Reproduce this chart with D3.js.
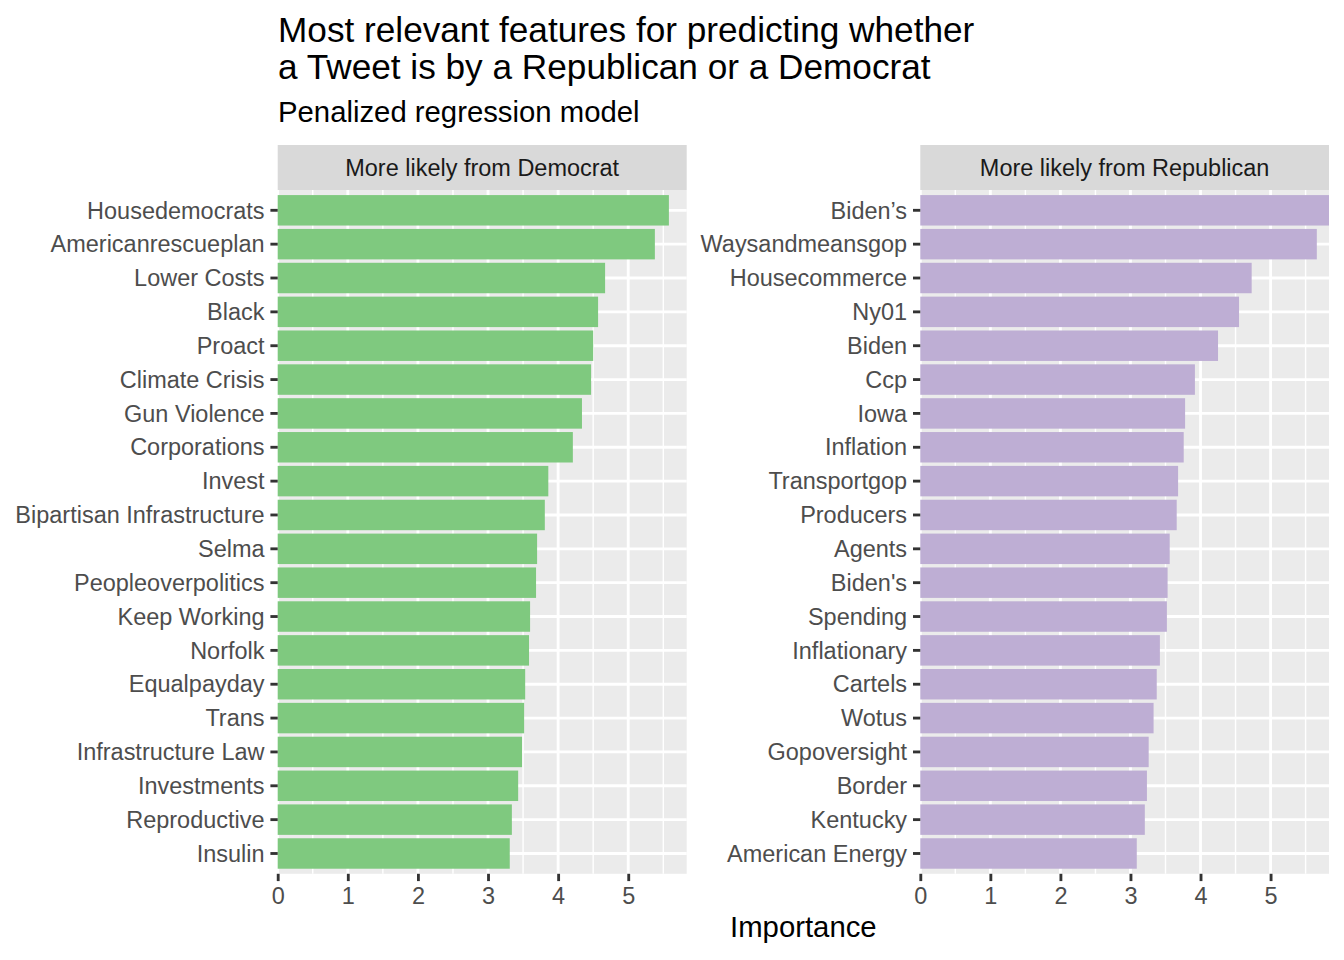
<!DOCTYPE html>
<html>
<head>
<meta charset="utf-8">
<script src="https://cdn.jsdelivr.net/npm/d3@7"></script>
<style>
  html, body { margin: 0; padding: 0; background: #ffffff; }
  svg { display: block; font-family: "Liberation Sans", Arial, Helvetica, sans-serif; }
</style>
</head>
<body>
<svg id="chart" width="1344" height="960"></svg>
<script>
// ---- Data ----
const demTerms = ["Housedemocrats", "Americanrescueplan", "Lower Costs", "Black", "Proact",
  "Climate Crisis", "Gun Violence", "Corporations", "Invest", "Bipartisan Infrastructure",
  "Selma", "Peopleoverpolitics", "Keep Working", "Norfolk", "Equalpayday", "Trans",
  "Infrastructure Law", "Investments", "Reproductive", "Insulin"];
const demValues = [5.58, 5.38, 4.67, 4.57, 4.50, 4.47, 4.34, 4.21, 3.86, 3.81,
  3.70, 3.685, 3.60, 3.585, 3.53, 3.515, 3.485, 3.43, 3.34, 3.31];

const repTerms = ["Biden\u2019s", "Waysandmeansgop", "Housecommerce", "Ny01", "Biden", "Ccp",
  "Iowa", "Inflation", "Transportgop", "Producers", "Agents", "Biden's", "Spending",
  "Inflationary", "Cartels", "Wotus", "Gopoversight", "Border", "Kentucky", "American Energy"];
const repValues = [5.834, 5.66, 4.73, 4.55, 4.25, 3.92, 3.78, 3.76, 3.68, 3.66,
  3.56, 3.53, 3.52, 3.42, 3.375, 3.33, 3.26, 3.235, 3.205, 3.09];

const facetLabels = ["More likely from Democrat", "More likely from Republican"];
const xTicks = [0, 1, 2, 3, 4, 5];
const titleLines = ["Most relevant features for predicting whether",
  "a Tweet is by a Republican or a Democrat"];
const subtitle = "Penalized regression model";
const xTitle = "Importance";
const colors = ["#7FC97F", "#BEAED4"];

// ---- Layout ----
const svg = d3.select("#chart");
const panelTop = 190, panelBottom = 873.8;
const stripTop = 145;
const panelsX = [[277.7, 686.7], [920.3, 1329]];
const xMax = d3.max(demValues.concat(repValues));

const facets = [
  { terms: demTerms, values: demValues },
  { terms: repTerms, values: repValues }
];

// Titles
const title = svg.append("g");
titleLines.forEach((t, i) => {
  title.append("text").attr("x", 278).attr("y", 41.5 + i * 37)
    .attr("font-size", 35.2).attr("fill", "#000").text(t);
});
svg.append("text").attr("x", 278).attr("y", 121.5)
  .attr("font-size", 29.3).attr("fill", "#000").text(subtitle);

facets.forEach((f, k) => {
  const [x0, x1] = panelsX[k];
  const x = d3.scaleLinear().domain([0, xMax]).range([x0, x1]);
  const y = d3.scaleBand().domain(f.terms).range([panelTop, panelBottom])
    .paddingInner(0.1).paddingOuter(0.15);
  const g = svg.append("g");

  // panel background
  g.append("rect").attr("x", x0).attr("y", panelTop).attr("width", x1 - x0)
    .attr("height", panelBottom - panelTop).attr("fill", "#EBEBEB");

  // minor grid
  const minor = d3.range(0.5, xMax, 1);
  g.selectAll(".minor").data(minor).join("line")
    .attr("x1", d => x(d)).attr("x2", d => x(d))
    .attr("y1", panelTop).attr("y2", panelBottom)
    .attr("stroke", "#fff").attr("stroke-width", 1.42);
  // major grid vertical
  g.selectAll(".majorx").data(xTicks).join("line")
    .attr("x1", d => x(d)).attr("x2", d => x(d))
    .attr("y1", panelTop).attr("y2", panelBottom)
    .attr("stroke", "#fff").attr("stroke-width", 2.85);
  // major grid horizontal
  g.selectAll(".majory").data(f.terms).join("line")
    .attr("x1", x0).attr("x2", x1)
    .attr("y1", d => y(d) + y.bandwidth() / 2).attr("y2", d => y(d) + y.bandwidth() / 2)
    .attr("stroke", "#fff").attr("stroke-width", 2.85);

  // bars
  g.selectAll(".bar").data(f.terms).join("rect")
    .attr("x", x(0)).attr("y", d => y(d))
    .attr("width", (d, i) => x(f.values[i]) - x(0))
    .attr("height", y.bandwidth())
    .attr("fill", colors[k]);

  // strip
  g.append("rect").attr("x", x0).attr("y", stripTop).attr("width", x1 - x0)
    .attr("height", panelTop - stripTop).attr("fill", "#D9D9D9");
  g.append("text").attr("x", (x0 + x1) / 2).attr("y", 176)
    .attr("text-anchor", "middle").attr("font-size", 23.47).attr("fill", "#1A1A1A")
    .text(facetLabels[k]);

  // y axis
  const yAxis = g.append("g").attr("transform", `translate(${x0},0)`)
    .call(d3.axisLeft(y).tickSize(7.3).tickPadding(5.9));
  yAxis.select(".domain").remove();
  yAxis.selectAll(".tick line").attr("stroke", "#333333").attr("stroke-width", 2.85);
  yAxis.selectAll(".tick text").attr("fill", "#4D4D4D").attr("font-size", 23.47)
    .attr("font-family", "'Liberation Sans', Arial, sans-serif").attr("dy", "0.35em");

  // x axis
  const xAxis = g.append("g").attr("transform", `translate(0,${panelBottom})`)
    .call(d3.axisBottom(x).tickValues(xTicks).tickFormat(d3.format("d")).tickSize(7.3).tickPadding(5.9));
  xAxis.select(".domain").remove();
  xAxis.selectAll(".tick line").attr("stroke", "#333333").attr("stroke-width", 2.85);
  xAxis.selectAll(".tick text").attr("fill", "#4D4D4D").attr("font-size", 23.47)
    .attr("font-family", "'Liberation Sans', Arial, sans-serif");
});

svg.append("text").attr("x", (panelsX[0][0] + panelsX[1][1]) / 2).attr("y", 937)
  .attr("text-anchor", "middle").attr("font-size", 29.3).attr("fill", "#000").text(xTitle);
</script>
</body>
</html>
